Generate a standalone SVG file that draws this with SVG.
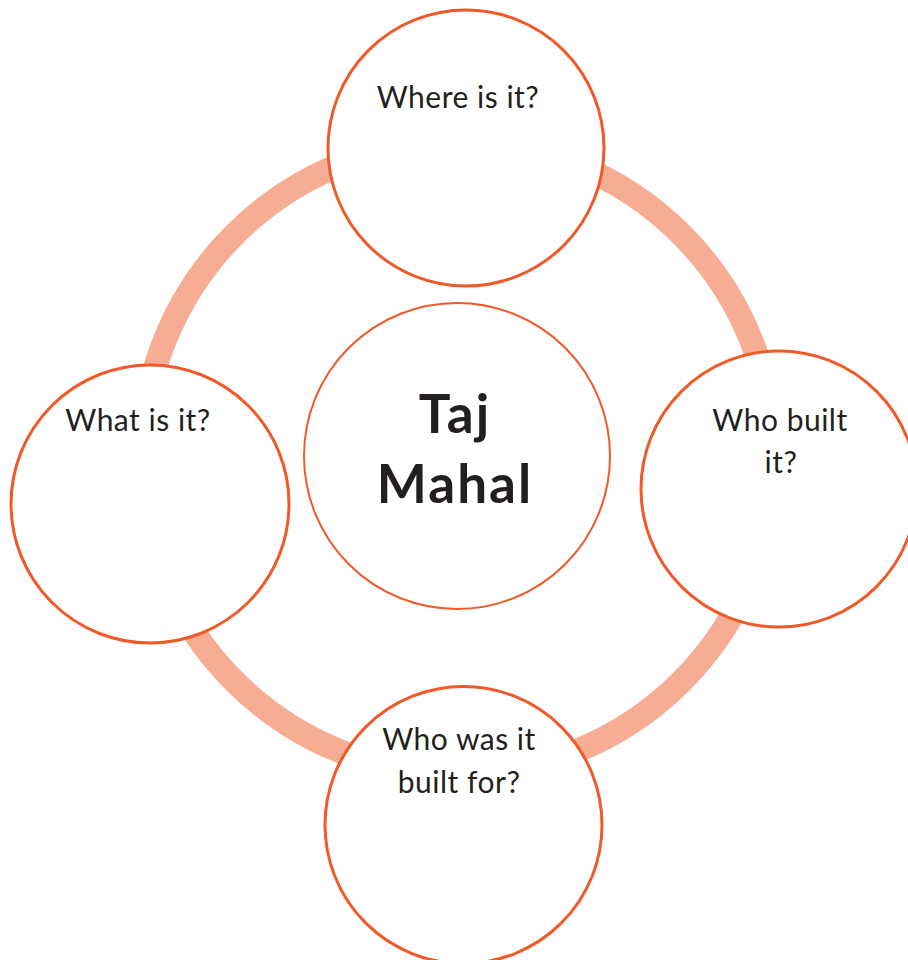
<svg xmlns="http://www.w3.org/2000/svg" width="908" height="960" viewBox="0 0 908 960">
  <style>
    .node { fill: #ffffff; stroke: #F05A28; stroke-width: 3; }
    .hub { fill: #ffffff; stroke: #F05A28; stroke-width: 2; }
    .q { font-family: "Lato", "Liberation Sans", sans-serif; font-size: 30px; letter-spacing: 0.5px; fill: #231F20; text-anchor: middle; }
    .title { font-family: "Lato", "Liberation Sans", sans-serif; font-size: 53px; letter-spacing: 2px; font-weight: bold; fill: #231F20; text-anchor: middle; }
  </style>
  <rect width="908" height="960" fill="#ffffff"/>
  <g id="connectors">
    <circle cx="458" cy="458" r="316" fill="none" stroke="#F7AD94" stroke-width="24"/>
  </g>
  <g id="hub">
    <circle class="hub" cx="457" cy="456" r="153"/>
    <text class="title" x="455" y="433">Taj</text>
    <text class="title" x="455" y="503">Mahal</text>
  </g>
  <g id="where">
    <circle class="node" cx="466" cy="148" r="138"/>
    <text class="q" x="458" y="108">Where is it?</text>
  </g>
  <g id="what">
    <circle class="node" cx="150" cy="504" r="139"/>
    <text class="q" x="138" y="431">What is it?</text>
  </g>
  <g id="who-built">
    <circle class="node" cx="779" cy="489" r="138"/>
    <text class="q" x="780" y="431">Who built</text>
    <text class="q" x="781" y="473">it?</text>
  </g>
  <g id="built-for">
    <circle class="node" cx="463.5" cy="825" r="138.5"/>
    <text class="q" x="459" y="750">Who was it</text>
    <text class="q" x="459" y="793">built for?</text>
  </g>
</svg>
